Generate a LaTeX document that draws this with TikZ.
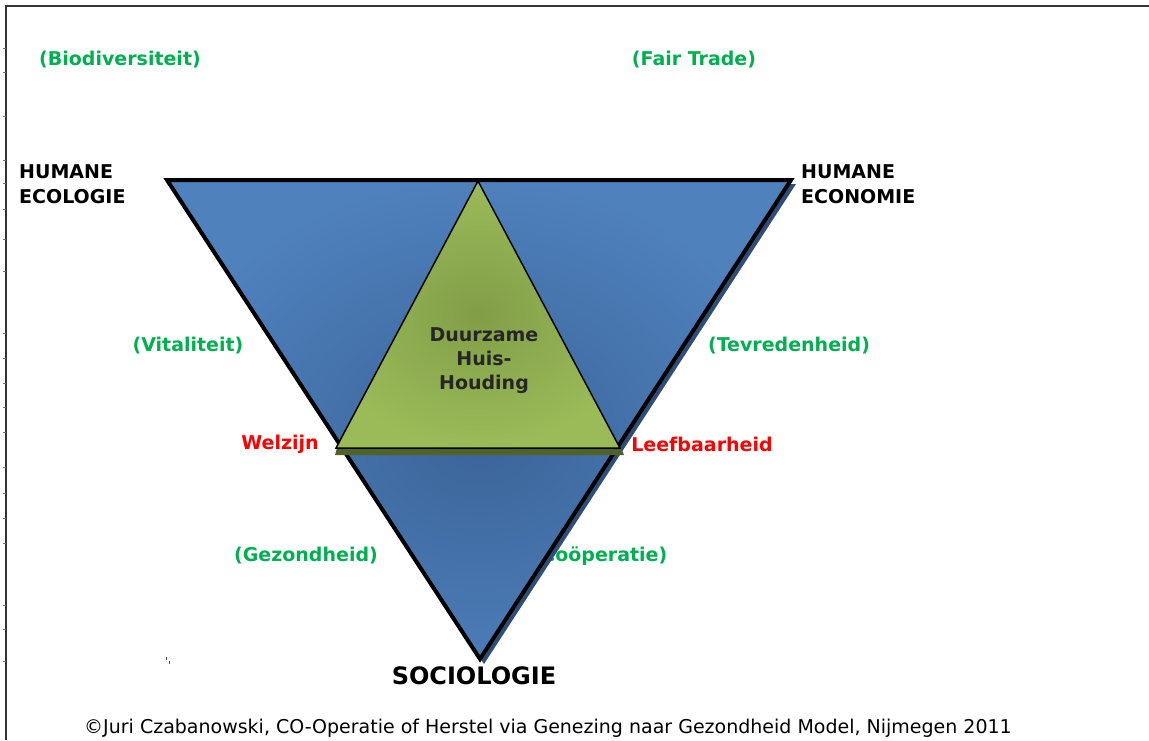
\documentclass[tikz,border=0pt]{standalone}
\usepackage{fontspec}
\setmainfont{DejaVu Sans}
\definecolor{blueout}{HTML}{4F81BD}
\definecolor{bluein}{HTML}{3B6499}
\definecolor{blueshadow}{HTML}{2E4E78}
\definecolor{greenout}{HTML}{9BBB59}
\definecolor{greenin}{HTML}{819E47}
\definecolor{greenshadow}{HTML}{4F6228}
\definecolor{labelgreen}{HTML}{00B050}
\definecolor{labelred}{HTML}{FF0000}
\definecolor{darktext}{HTML}{262626}
\definecolor{framegray}{HTML}{333333}
\tikzset{
  lbl/.style={inner sep=0pt, font=\bfseries\fontsize{19}{25}\selectfont},
  greenlbl/.style={lbl, text=labelgreen},
  redlbl/.style={lbl, text=labelred},
  corner/.style={lbl, align=left, anchor=west},
}
\begin{document}
\begin{tikzpicture}[x=1pt,y=-1pt]
\useasboundingbox (0,0) rectangle (1149,740);
% frame
\draw[framegray, line width=1.4pt] (6,740) -- (6,6) -- (1149,6);
\foreach \yy in {48,72,116,160,183,209,239,271,333,358,383,407,432,467,493,518,543,605,629,661}
  \draw[framegray!70, line width=0.6pt] (3,\yy) -- (6,\yy);
% labels behind the triangle
\node[greenlbl] (coop) at (600,556) {(Coöperatie)};
% blue triangle shadow
\fill[blueshadow] (171,184) -- (796,184) -- (484,664) -- cycle;
% blue triangle
\coordinate (A) at (167,180);
\coordinate (B) at (791,180);
\coordinate (C) at (480,659);
\begin{scope}
  \clip (A) -- (B) -- (C) -- cycle;
  \shade[inner color=bluein, outer color=blueout] (157,178) rectangle (801,702);
\end{scope}
\draw[black, line width=4pt, line join=miter] (A) -- (B) -- (C) -- cycle;
% green triangle shadow
\fill[greenshadow] (337,448) -- (621,448) -- (624,455) -- (335,455) -- cycle;
% green triangle
\coordinate (G1) at (478,181);
\coordinate (G2) at (336,448);
\coordinate (G3) at (620,448);
\begin{scope}
  \clip (G1) -- (G2) -- (G3) -- cycle;
  \shade[inner color=greenin, outer color=greenout] (316,181) rectangle (640,448);
\end{scope}
\draw[black, line width=1.5pt, line join=miter] (G1) -- (G2) -- (G3) -- cycle;
% labels
\node[greenlbl] (bio) at (120,60) {(Biodiversiteit)};
\node[greenlbl] (fair) at (694,60) {(Fair Trade)};
\node[corner] (heco) at (19,184) {HUMANE\\ECOLOGIE};
\node[corner] (hecn) at (801,184) {HUMANE\\ECONOMIE};
\node[greenlbl] (vit) at (188,346) {(Vitaliteit)};
\node[greenlbl] (tev) at (789,346) {(Tevredenheid)};
\node[lbl, align=center, text=darktext, font=\bfseries\fontsize{19}{24}\selectfont] (dhh) at (484,361) {Duurzame\\Huis-\\Houding};
\node[redlbl] (welz) at (280,444) {Welzijn};
\node[redlbl] (leef) at (702,444) {Leefbaarheid};
\node[greenlbl] (gez) at (306,556) {(Gezondheid)};
\node[inner sep=0pt, font=\bfseries\fontsize{24}{28}\selectfont] (soc) at (474,676) {SOCIOLOGIE};
\node[inner sep=0pt, font=\fontsize{19}{23}\selectfont] (foot) at (548,728) {©Juri Czabanowski, CO-Operatie of Herstel via Genezing naar Gezondheid Model, Nijmegen 2011};
% tiny stray mark
\draw[blueshadow, line width=0.6pt] (166.5,657) -- (166.5,660) (169.5,661) -- (169.5,664);
\end{tikzpicture}
\end{document}
